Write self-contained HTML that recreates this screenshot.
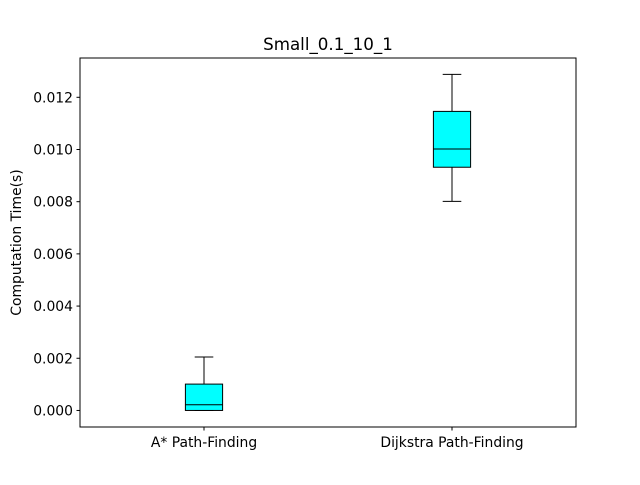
<!DOCTYPE html>
<html><head><meta charset="utf-8"><style>
body{margin:0;background:#fff;}
svg text{font-family:"DejaVu Sans","Liberation Sans",sans-serif;}
</style></head><body>
<svg id="chart" width="640" height="480" xmlns="http://www.w3.org/2000/svg">
<rect width="640" height="480" fill="#fff"/>
<text x="328" y="50" font-size="16.7" text-anchor="middle">Small_0.1_10_1</text>
<g id="plot"></g>
<rect x="80" y="58" width="496" height="369" fill="none" stroke="#000" stroke-width="1"/>
<text transform="translate(21,242.5) rotate(-90)" font-size="13.9" text-anchor="middle">Computation Time(s)</text>
</svg>
<script>
const categories=["A* Path-Finding","Dijkstra Path-Finding"];
const whiskerLow=[0.0,0.00801];
const q1=[0.0,0.00932];
const medians=[0.00022,0.01002];
const q3=[0.00101,0.01146];
const whiskerHigh=[0.00205,0.01288];
const yTicks=[0,0.002,0.004,0.006,0.008,0.010,0.012];
const yTickLabels=["0.000","0.002","0.004","0.006","0.008","0.010","0.012"];

const L=80,R=576,T=58,B=427;
const yMin=-0.000634,yMax=0.013506;
const y=v=>B-(v-yMin)/(yMax-yMin)*(B-T);
const x=p=>L+(p-0.5)/2*(R-L);
const g=document.getElementById('plot');
const NS="http://www.w3.org/2000/svg";
function mk(tag,attrs,parent){const e=document.createElementNS(NS,tag);for(const k in attrs)e.setAttribute(k,attrs[k]);(parent||g).appendChild(e);return e;}

yTicks.forEach((t,i)=>{
  const yy=y(t);
  const tk=mk('line',{x1:L-3.5,x2:L,y1:yy,y2:yy,stroke:'#000'});
  
  
  const tx=mk('text',{x:L-7,y:yy+5,'font-size':13.9,'text-anchor':'end'});
  tx.textContent=yTickLabels[i];
  
  
});
categories.forEach((c,i)=>{
  const cx=x(i+1),hw=0.075/2*(R-L);
  const tk=mk('line',{x1:cx,x2:cx,y1:B,y2:B+3.5,stroke:'#000'});
  
  
  const tx=mk('text',{x:cx,y:B+20,'font-size':13.9,'text-anchor':'middle'});
  tx.textContent=c;
  
  
  const grp=mk('g',{});
  
  
  mk('line',{x1:cx,x2:cx,y1:y(whiskerLow[i]),y2:y(q1[i]),stroke:'#000'},grp);
  mk('line',{x1:cx,x2:cx,y1:y(q3[i]),y2:y(whiskerHigh[i]),stroke:'#000'},grp);
  mk('line',{x1:cx-hw/2,x2:cx+hw/2,y1:y(whiskerLow[i]),y2:y(whiskerLow[i]),stroke:'#000'},grp);
  mk('line',{x1:cx-hw/2,x2:cx+hw/2,y1:y(whiskerHigh[i]),y2:y(whiskerHigh[i]),stroke:'#000'},grp);
  mk('rect',{x:cx-hw,y:y(q3[i]),width:2*hw,height:Math.max(0.5,y(q1[i])-y(q3[i])),fill:'#00ffff',stroke:'#000'},grp);
  mk('line',{x1:cx-hw,x2:cx+hw,y1:y(medians[i]),y2:y(medians[i]),stroke:'#000'},grp);
});
</script>
</body></html>
